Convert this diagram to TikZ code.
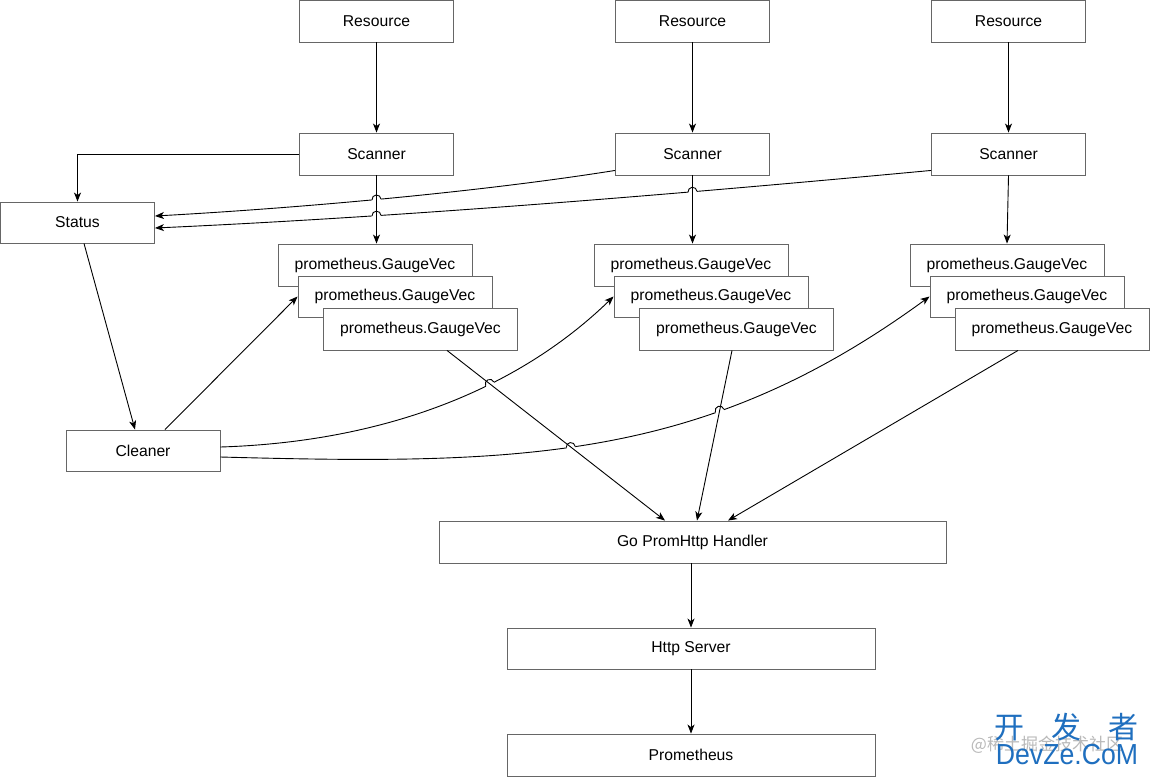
\documentclass[tikz,border=0pt]{standalone}
\usepackage{fontspec}
\setmainfont{Liberation Sans}
\newfontfamily\cjk{Noto Sans CJK SC}
\usetikzlibrary{arrows.meta,intersections,calc}
\definecolor{bordergray}{HTML}{666666}
\definecolor{wmblue}{HTML}{1F6FBF}
\tikzset{
  box/.style={draw=bordergray, fill=white, line width=0.9pt, minimum height=42pt, inner sep=0pt, font=\fontsize{15.7}{18}\selectfont},
  arr/.style={draw=black, line width=0.9pt, -{Stealth[length=9pt,width=7pt,inset=2.5pt]}},
}
\newcommand\myhop[2]{\draw[line width=0.9pt] ([shift={(#2+180:4.5)}]#1) arc[start angle=#2+180, end angle=#2+360, radius=4.5];}
\begin{document}
\begin{tikzpicture}[x=1pt,y=-1pt]
\useasboundingbox (0,0) rectangle (1150,777);
\fill[white] (0,0) rectangle (1150,777);

% boxes
\node[box, minimum width=154pt] (res1) at (376.5,21) {Resource};
\node[box, minimum width=154pt] (res2) at (692.5,21) {Resource};
\node[box, minimum width=154pt] (res3) at (1008.5,21) {Resource};
\node[box, minimum width=154pt] (scan1) at (376.5,154) {Scanner};
\node[box, minimum width=154pt] (scan2) at (692.5,154) {Scanner};
\node[box, minimum width=154pt] (scan3) at (1008.5,154) {Scanner};
\node[box, minimum width=154pt, minimum height=41pt] (status) at (77.5,222.5) {Status};

\node[box, minimum width=194pt] (g1a) at (375,265) {prometheus.GaugeVec};
\node[box, minimum width=194pt, minimum height=41pt] (g1b) at (395,296.5) {prometheus.GaugeVec};
\node[box, minimum width=194pt] (g1c) at (420.5,329) {prometheus.GaugeVec};
\node[box, minimum width=194pt] (g2a) at (691,265) {prometheus.GaugeVec};
\node[box, minimum width=194pt, minimum height=41pt] (g2b) at (711,296.5) {prometheus.GaugeVec};
\node[box, minimum width=194pt] (g2c) at (736.5,329) {prometheus.GaugeVec};
\node[box, minimum width=194pt] (g3a) at (1007,265) {prometheus.GaugeVec};
\node[box, minimum width=194pt, minimum height=41pt] (g3b) at (1027,296.5) {prometheus.GaugeVec};
\node[box, minimum width=194pt] (g3c) at (1052,329) {prometheus.GaugeVec};

\node[box, minimum width=154pt, minimum height=41pt] (cleaner) at (143,450.5) {Cleaner};
\node[box, minimum width=507pt] (handler) at (692.5,542) {Go PromHttp Handler};
\node[box, minimum width=368pt, minimum height=41pt] (http) at (691,648.5) {Http Server};
\node[box, minimum width=368pt] (prom) at (691,755) {Prometheus};

% crossed paths (named, drawn later)
\path[name path=v1] (scan1.south) -- (g1a.north -| scan1.south);
\path[name path=v2] (scan2.south) -- (g2a.north -| scan2.south);
\path[name path=d1] ([xshift=26.5pt]g1c.south) -- ([xshift=-27.5pt]handler.north);
\path[name path=d2] ([xshift=-4.5pt]g2c.south) -- ([xshift=4.5pt]handler.north);

% jumping curves
\draw[arr, name path=s2] ([yshift=5pt]scan2.south west) .. controls (480,192) and (300,208) .. ([yshift=6.5pt]status.east);
\draw[arr, name path=s3] ([yshift=5pt]scan3.south west) .. controls (700,192) and (420,216) .. ([yshift=-5.5pt]status.east);
\draw[arr, name path=cu] ([yshift=3.5pt]cleaner.east) .. controls (380,442) and (515,392) .. (g2b.west);
\draw[arr, name path=cl] ([yshift=-6.5pt]cleaner.east) .. controls (520,465) and (703,462) .. (g3b.west);

\path[name intersections={of=v1 and s2, by=h1}];
\path[name intersections={of=v1 and s3, by=h2}];
\path[name intersections={of=v2 and s3, by=h3}];
\path[name intersections={of=d1 and cu, by=h4}];
\path[name intersections={of=d1 and cl, by=h5}];
\path[name intersections={of=d2 and cl, by=h6}];
\foreach \h in {h1,h2,h3,h4,h5,h6} \fill[white] (\h) circle[radius=4.7];

% straight connectors
\draw[arr] (res1.south) -- (scan1.north);
\draw[arr] (res2.south) -- (scan2.north);
\draw[arr] (res3.south) -- (scan3.north);
\draw[arr] (scan1.west) -| (status.north);
\draw[arr] (scan1.south) -- (g1a.north -| scan1.south);
\draw[arr] (scan2.south) -- (g2a.north -| scan2.south);
\draw[arr] (scan3.south) -- (g3a.north);
\draw[arr] ([xshift=6.5pt]status.south) -- ([xshift=-8pt]cleaner.north);
\draw[arr] ([xshift=22pt]cleaner.north) -- (g1b.west);
\draw[arr] ([xshift=26.5pt]g1c.south) -- ([xshift=-27.5pt]handler.north);
\draw[arr] ([xshift=-4.5pt]g2c.south) -- ([xshift=4.5pt]handler.north);
\draw[arr] ([xshift=-34pt]g3c.south) -- ([xshift=35.5pt]handler.north);
\draw[arr] (handler.south -| http.north) -- (http.north);
\draw[arr] (http.south) -- (prom.north);

% hops
\myhop{h1}{-5}
\myhop{h2}{-3}
\myhop{h3}{-5.5}
\myhop{h4}{-25}
\myhop{h5}{-8}
\myhop{h6}{-17}

% watermark
\node[text=gray!55, font=\cjk\fontsize{17}{19}\selectfont] (wm3) at (1047,745) {@稀土掘金技术社区};
\node[text=wmblue, font=\cjk\fontsize{30}{32}\selectfont] (wm1) at (1066,727) {开\hspace{27pt}发\hspace{27pt}者};
\node[text=wmblue, font=\fontsize{29}{32}\selectfont] (wm2) at (1067,755) {\scalebox{0.92}[1]{DevZe.CoM}};
\end{tikzpicture}
\end{document}
